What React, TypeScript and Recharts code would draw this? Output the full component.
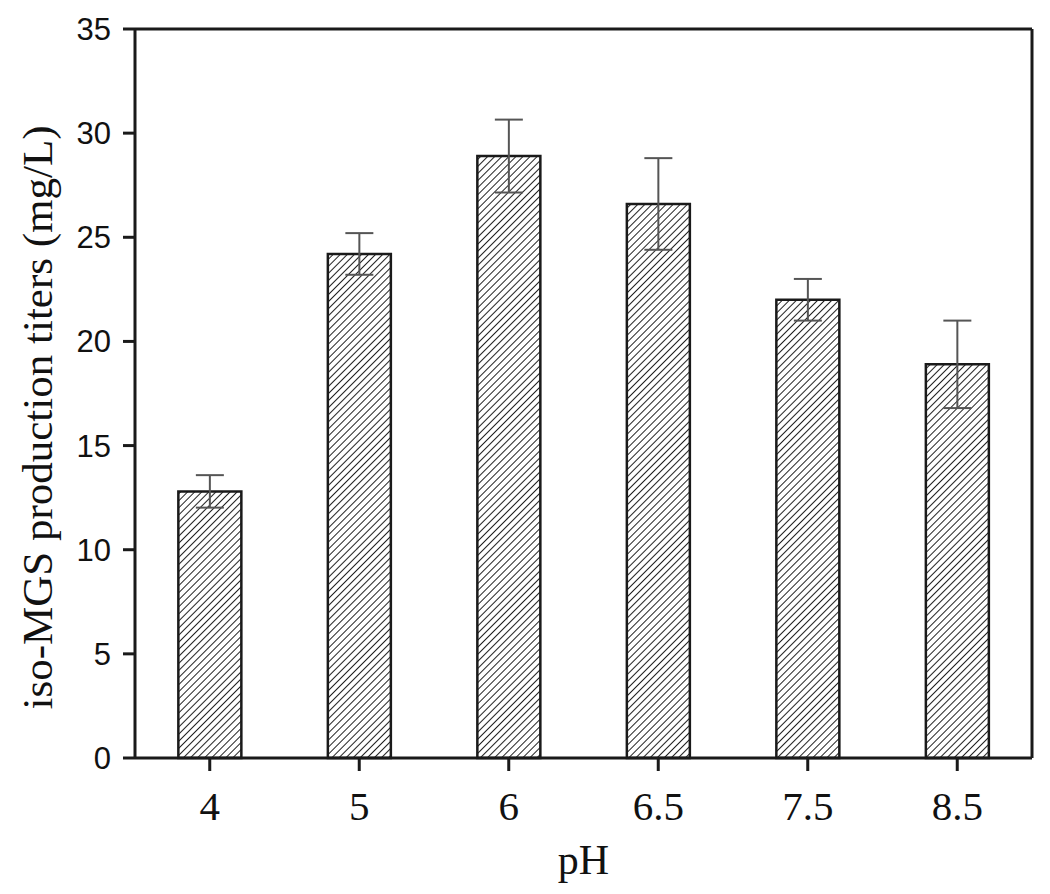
import { BarChart, Bar, XAxis, YAxis, ErrorBar, ReferenceLine } from "recharts";

// pH levels tested
const phLevels = ["4", "5", "6", "6.5", "7.5", "8.5"];
// iso-MGS titers (mg/L)
const titers = [12.8, 24.2, 28.9, 26.6, 22.0, 18.9];
// standard deviations
const errors = [0.78, 1.0, 1.75, 2.2, 1.0, 2.1];
const yTicks = [0, 5, 10, 15, 20, 25, 30, 35];

const data = phLevels.map((ph, i) => ({ ph, titer: titers[i], err: errors[i] }));

const serif = "'Liberation Serif', 'Times New Roman', serif";
const sans = "'Liberation Sans', Arial, sans-serif";
const axisColor = "#1a1a1a";

function YLabel({ viewBox }: any) {
  const cx = viewBox.x + 52;
  const cy = viewBox.y + viewBox.height / 2 + 24;
  return (
    <text
      x={cx}
      y={cy}
      transform={`rotate(-90, ${cx}, ${cy})`}
      textAnchor="middle"
      fontFamily={serif}
      fontSize={43}
      fill="#111"
    >
      iso-MGS production titers (mg/L)
    </text>
  );
}

export default function App() {
  return (
    <div style={{ width: 1050, height: 894, background: "#fff" }}>
      <style>{`body{margin:0}`}</style>
      <BarChart
        width={1050}
        height={894}
        data={data}
        margin={{ top: 29, right: 0, bottom: 0, left: 0 }}
        barCategoryGap="29%"
      >
        <defs>
          <pattern
            id="hatch"
            patternUnits="userSpaceOnUse"
            width={5}
            height={5}
            patternTransform="rotate(45)"
          >
            <rect width={5} height={5} fill="#fff" />
            <line x1={0} y1={0} x2={0} y2={5} stroke="#222" strokeWidth={2} />
          </pattern>
        </defs>
        <XAxis
          dataKey="ph"
          height={136}
          tickSize={13}
          tickMargin={20}
          axisLine={{ stroke: axisColor, strokeWidth: 3 }}
          tickLine={{ stroke: axisColor, strokeWidth: 3 }}
          tick={{ fontFamily: serif, fontSize: 41, fill: "#111" }}
          label={{
            value: "pH",
            position: "insideBottom",
            offset: 20,
            style: { fontFamily: serif, fontSize: 42, fill: "#111" },
          }}
        />
        <YAxis
          width={135}
          domain={[0, 35]}
          ticks={yTicks}
          interval={0}
          tickSize={12}
          tickMargin={12}
          axisLine={{ stroke: axisColor, strokeWidth: 3 }}
          tickLine={{ stroke: axisColor, strokeWidth: 3 }}
          tick={{ fontFamily: sans, fontSize: 31, fill: "#111" }}
          label={<YLabel />}
        />
        <YAxis
          yAxisId="right"
          orientation="right"
          width={18}
          domain={[0, 35]}
          tick={false}
          tickLine={false}
          axisLine={{ stroke: axisColor, strokeWidth: 3 }}
        />
        <ReferenceLine y={35} stroke={axisColor} strokeWidth={3} />
        <Bar
          dataKey="titer"
          fill="url(#hatch)"
          stroke="#1a1a1a"
          strokeWidth={2.5}
          isAnimationActive={false}
        >
          <ErrorBar
            dataKey="err"
            width={14}
            stroke="#555"
            strokeWidth={2}
            direction="y"
          />
        </Bar>
      </BarChart>
    </div>
  );
}
